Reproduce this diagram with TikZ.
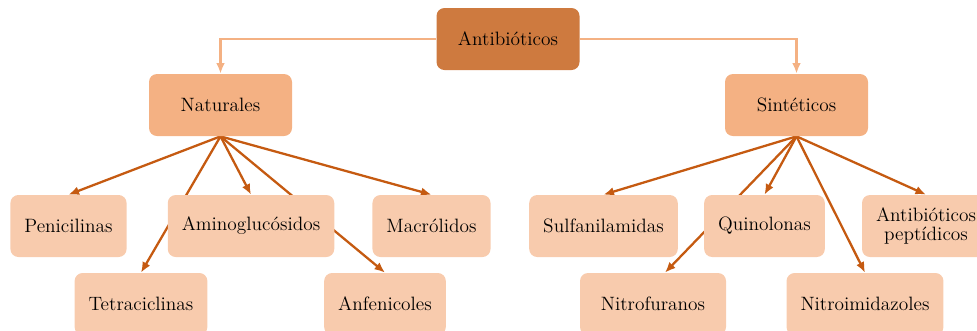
\documentclass[tikz,border=0pt]{standalone}
\usepackage{tikz}
\usetikzlibrary{arrows.meta,backgrounds}
\definecolor{topfill}{HTML}{CE7A3F}
\definecolor{midfill}{HTML}{F4B183}
\definecolor{leaffill}{HTML}{F8CBAD}
\definecolor{arrowdark}{HTML}{C55A11}
\tikzset{
  box/.style={rounded corners=0.16cm, minimum height=1.24cm, inner xsep=0.28cm, font=\fontsize{11}{13}\selectfont, align=center},
  topbox/.style={box, fill=topfill, minimum width=2.86cm},
  midbox/.style={box, fill=midfill, minimum width=2.86cm},
  leafbox/.style={box, fill=leaffill},
  link/.style={draw=midfill, line width=1.6pt, -{Latex[length=6pt,width=5pt]}},
  branch/.style={draw=arrowdark, line width=1.3pt, -{Latex[length=6pt,width=5pt]}}
}
\begin{document}
\begin{tikzpicture}
\useasboundingbox (0,0) rectangle (19.54,-6.6);
\clip (0,0) rectangle (19.54,-6.6);
% main classes
\node[topbox] (anti) at (10.16,-0.78) {Antibióticos};
\node[midbox] (nat) at (4.41,-2.1) {Naturales};
\node[midbox] (sint) at (15.93,-2.1) {Sintéticos};
% natural ones
\node[leafbox] (peni) at (1.37,-4.52) {Penicilinas};
\node[leafbox] (amino) at (5.02,-4.52) {Aminoglucósidos};
\node[leafbox] (macro) at (8.63,-4.52) {Macrólidos};
\node[leafbox] (tetra) at (2.82,-6.08) {Tetraciclinas};
\node[leafbox] (anfe) at (7.70,-6.08) {Anfenicoles};
% synthetic ones
\node[leafbox] (sulfa) at (12.07,-4.52) {Sulfanilamidas};
\node[leafbox] (quino) at (15.29,-4.52) {Quinolonas};
\node[leafbox] (pept) at (18.52,-4.52) {Antibióticos\\[-2pt]peptídicos};
\node[leafbox, minimum width=2.92cm] (nitrof) at (13.06,-6.08) {Nitrofuranos};
\node[leafbox, minimum width=3.12cm] (nitroi) at (17.30,-6.08) {Nitroimidazoles};
\begin{scope}[on background layer]
\draw[link] (anti.west) -| (nat.north);
\draw[link] (anti.east) -| (sint.north);
\foreach \child in {peni,amino,macro,tetra,anfe}
  \draw[branch] (nat.south) -- (\child.north);
\foreach \child in {sulfa,quino,pept,nitroi}
  \draw[branch] (sint.south) -- (\child.north);
\draw[branch] (sint.south) -- ([xshift=0.24cm]nitrof.north);
\end{scope}
\end{tikzpicture}
\end{document}
